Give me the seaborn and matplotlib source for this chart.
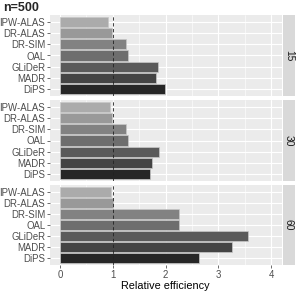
import numpy as np
import pandas as pd
import matplotlib
matplotlib.use("Agg")
import matplotlib.pyplot as plt
import seaborn as sns

# --- data ---
methods = ["IPW-ALAS", "DR-ALAS", "DR-SIM", "OAL", "GLiDeR", "MADR", "DiPS"]
facets = ["15", "30", "60"]
eff_15 = [0.91, 0.99, 1.26, 1.28, 1.85, 1.82, 1.99]
eff_30 = [0.95, 0.99, 1.26, 1.29, 1.88, 1.74, 1.70]
eff_60 = [0.97, 1.00, 2.25, 2.26, 3.57, 3.26, 2.64]
greys = ["#ABABAB", "#999999", "#828282", "#6E6E6E", "#5A5A5A", "#444444", "#262626"]

df = pd.DataFrame({
    "method": methods * 3,
    "p": [f for f in facets for _ in methods],
    "eff": eff_15 + eff_30 + eff_60,
})

sns.set_theme(style="darkgrid", rc={
    "axes.facecolor": "#EBEBEB",
    "grid.color": "white",
    "axes.edgecolor": "#EBEBEB",
})
plt.rcParams["font.family"] = ["Liberation Sans", "DejaVu Sans"]

W, H = 298, 291
fig = plt.figure(figsize=(W / 100, H / 100), dpi=100)
pal = dict(zip(methods, greys))

left, right = 49.5, 281.5
panels = [(15, 96), (100, 181), (185, 265)]

for i, (f, (top, bot)) in enumerate(zip(facets, panels)):
    ax = fig.add_axes([left / W, 1 - bot / H, (right - left) / W, (bot - top) / H])
    sub = df[df["p"] == f]
    sns.barplot(data=sub, x="eff", y="method", hue="method", palette=pal,
                order=methods, hue_order=methods, orient="h", width=0.9,
                edgecolor="#C8C8C8", linewidth=0.5, legend=False, ax=ax, zorder=2)
    ax.axvline(1, color="#222222", linestyle=(0, (4, 3)), linewidth=0.6, zorder=3)
    ax.set_xlim(-0.2, 4.2)
    ax.set_ylim(6.6, -0.6)
    ax.set_xticks([0, 1, 2, 3, 4])
    ax.set_xticks([0.5, 1.5, 2.5, 3.5], minor=True)
    ax.grid(True, which="major", color="white", linewidth=0.8)
    ax.grid(True, which="minor", axis="x", color="white", linewidth=0.4)
    ax.set_axisbelow(True)
    ax.set_ylabel("")
    ax.set_xlabel("")
    for s in ax.spines.values():
        s.set_visible(False)
    ax.tick_params(axis="y", which="major", left=True, length=2, width=0.5,
                   color="#333333", labelsize=6.9, labelcolor="#4D4D4D", pad=1)
    ax.tick_params(axis="x", which="minor", bottom=False)
    if i < 2:
        ax.tick_params(axis="x", which="major", bottom=False, labelbottom=False)
    else:
        ax.tick_params(axis="x", which="major", bottom=True, length=2, width=0.5,
                       color="#333333", labelsize=6.9, labelcolor="#4D4D4D", pad=1.5)
        ax.set_xlabel("Relative efficiency", fontsize=7.8, color="black", labelpad=1)

    # facet strip on the right
    sax = fig.add_axes([283 / W, 1 - bot / H, 12 / W, (bot - top) / H])
    sax.set_facecolor("#D9D9D9")
    sax.set_xticks([])
    sax.set_yticks([])
    sax.grid(False)
    for s in sax.spines.values():
        s.set_visible(False)
    sax.text(0.5, 0.5, f, rotation=-90, ha="center", va="center",
             fontsize=7.4, color="#1A1A1A", transform=sax.transAxes)

fig.text(3 / W, 1 - 8 / H, "n=500", fontsize=9, fontweight="bold",
         ha="left", va="center")

fig.savefig("out.png", dpi=100)
